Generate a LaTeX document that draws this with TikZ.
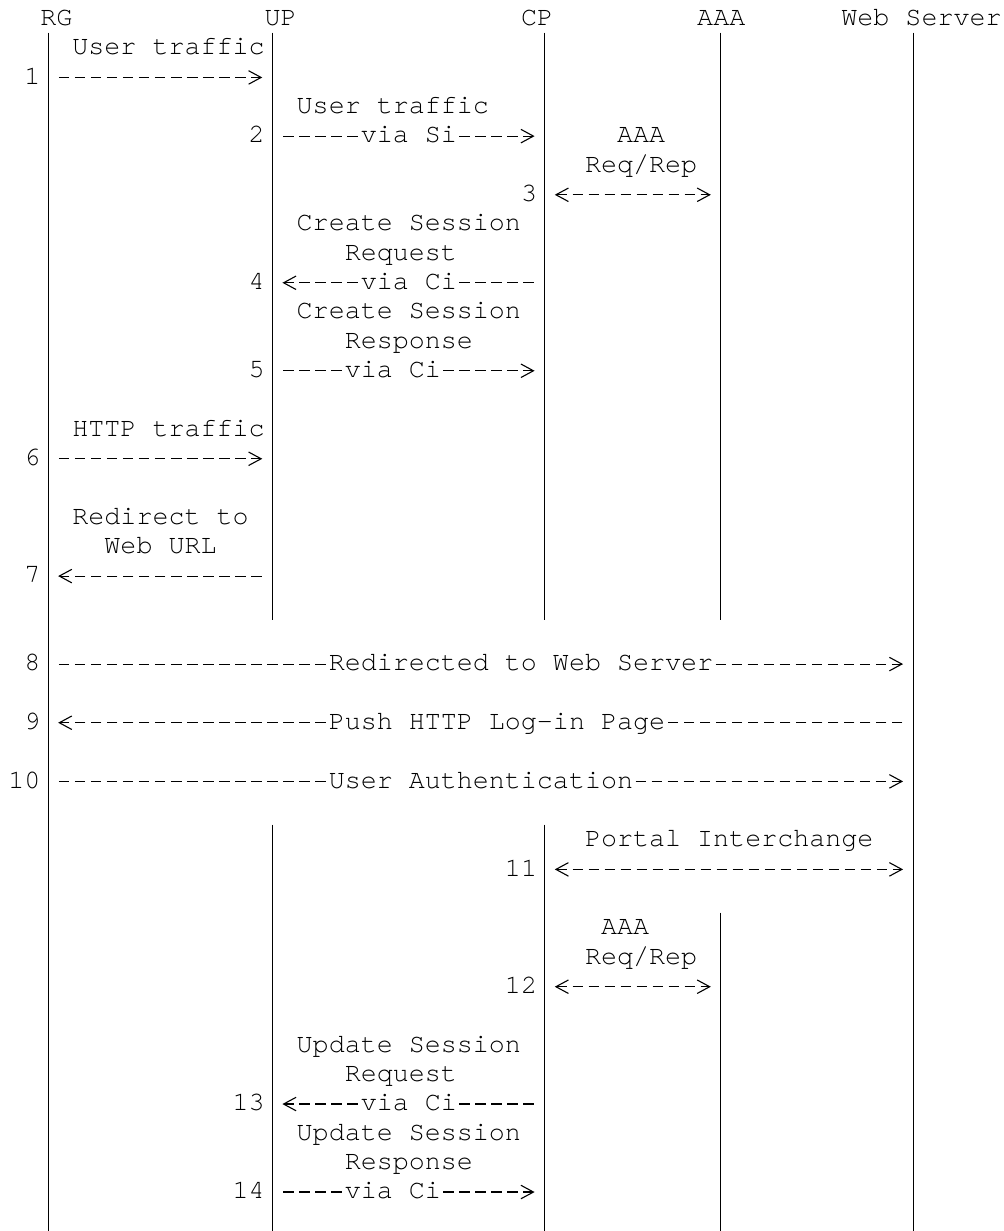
\documentclass[tikz,border=0pt]{standalone}
\usepackage{fontspec}
\newfontfamily\courfont[Ligatures=NoCommon]{TeX Gyre Cursor}
\usetikzlibrary{arrows.meta}

\tikzset{
  txt/.style={anchor=base west, inner sep=0pt, font=\courfont\fontsize{15.19pt}{16.7pt}\selectfont},
  lbl/.style={txt, fill=white, inner ysep=1pt},
  life/.style={line width=0.022cm},
  msg/.style={line width=0.022cm, dash pattern=on 2.115mm off 1.089mm, shorten <=2.147mm, shorten >=2.018mm, ->},
  twoway/.style={msg, <->, shorten <=2.018mm},
  >={Straight Barb[length=2.5mm,width=2.7mm]}
}

\begin{document}
\begin{tikzpicture}[x=3.204mm, y=5.866mm]
    \useasboundingbox (0,0) rectangle (62.61,-41.97);
    % ---- headers ----
    \node[txt] (rg)  at (2.5,-0.869)  {RG};
    \node[txt] (up)  at (16.5,-0.869) {UP};
    \node[txt] (cp)  at (32.5,-0.869) {CP};
    \node[txt] (aaa) at (43.5,-0.869) {AAA};
    \node[txt] (ws)  at (52.5,-0.869) {Web Server};
    % ---- points on the lifelines, one per row ----
    \foreach \n/\c in {rg/3,up/17,cp/34,aaa/45,ws/57} {
        \foreach \r in {1,...,41} {
            \coordinate (\n-\r) at (\c,{-\r-0.641});
        }
    }
    % ---- lifelines ----
    \draw[life] ([yshift=3.08mm]rg-1)   -- ([yshift=-2.92mm]rg-41);
    \draw[life] ([yshift=3.08mm]up-1)   -- ([yshift=-2.92mm]up-20);
    \draw[life] ([yshift=3.08mm]up-28)  -- ([yshift=-2.92mm]up-41);
    \draw[life] ([yshift=3.08mm]cp-1)   -- ([yshift=-2.92mm]cp-20);
    \draw[life] ([yshift=3.08mm]cp-28)  -- ([yshift=-2.92mm]cp-41);
    \draw[life] ([yshift=3.08mm]aaa-1)  -- ([yshift=-2.92mm]aaa-20);
    \draw[life] ([yshift=3.08mm]aaa-31) -- ([yshift=-2.92mm]aaa-41);
    \draw[life] ([yshift=3.08mm]ws-1)   -- ([yshift=-2.92mm]ws-41);
    % ---- steps 1-7 ----
    \node[txt] at (4.5,-1.869) {User traffic};
    \node[txt] (n1) at (1.5,-2.869) {1};
    \draw[msg] (rg-2) -- (up-2);
    \node[txt] at (18.5,-3.869) {User traffic};
    \node[txt] (n2) at (15.5,-4.869) {2};
    \draw[msg] (up-4) -- (cp-4);
    \node[lbl] at (22.5,-4.869) {via Si};
    \node[txt] at (38.5,-4.869) {AAA};
    \node[txt] at (36.5,-5.869) {Req/Rep};
    \node[txt] (n3) at (32.5,-6.869) {3};
    \draw[twoway] (cp-6) -- (aaa-6);
    \node[txt] at (18.5,-7.869) {Create Session};
    \node[txt] at (21.5,-8.869) {Request};
    \node[txt] (n4) at (15.5,-9.869) {4};
    \draw[msg] (cp-9) -- (up-9);
    \node[lbl] at (22.5,-9.869) {via Ci};
    \node[txt] at (18.5,-10.869) {Create Session};
    \node[txt] at (21.5,-11.869) {Response};
    \node[txt] (n5) at (15.5,-12.869) {5};
    \draw[msg] (up-12) -- (cp-12);
    \node[lbl] at (21.5,-12.869) {via Ci};
    \node[txt] at (4.5,-14.869) {HTTP traffic};
    \node[txt] (n6) at (1.5,-15.869) {6};
    \draw[msg] (rg-15) -- (up-15);
    \node[txt] at (4.5,-17.869) {Redirect to};
    \node[txt] at (6.5,-18.869) {Web URL};
    \node[txt] (n7) at (1.5,-19.869) {7};
    \draw[msg] (up-19) -- (rg-19);
    % ---- steps 8-10 ----
    \node[txt] (n8) at (1.5,-22.869) {8};
    \draw[msg] (rg-22) -- (ws-22);
    \node[lbl] at (20.5,-22.869) {Redirected to Web Server};
    \node[txt] (n9) at (1.5,-24.869) {9};
    \draw[msg] (ws-24) -- (rg-24);
    \node[lbl] at (20.5,-24.869) {Push HTTP Log-in Page};
    \node[txt] (n10) at (0.5,-26.869) {10};
    \draw[msg] (rg-26) -- (ws-26);
    \node[lbl] at (20.5,-26.869) {User Authentication};
    % ---- steps 11-14 ----
    \node[txt] at (36.5,-28.869) {Portal Interchange};
    \node[txt] (n11) at (31.5,-29.869) {11};
    \draw[twoway] (cp-29) -- (ws-29);
    \node[txt] at (37.5,-31.869) {AAA};
    \node[txt] at (36.5,-32.869) {Req/Rep};
    \node[txt] (n12) at (31.5,-33.869) {12};
    \draw[twoway] (cp-33) -- (aaa-33);
    \node[txt] at (18.5,-35.869) {Update Session};
    \node[txt] at (21.5,-36.869) {Request};
    \node[txt] (n13) at (14.5,-37.869) {13};
    \draw[msg] (cp-37) -- (up-37);
    \node[lbl] at (22.5,-37.869) {via Ci};
    \node[txt] at (18.5,-38.869) {Update Session};
    \node[txt] at (21.5,-39.869) {Response};
    \node[txt] (n14) at (14.5,-40.869) {14};
    \draw[msg] (up-40) -- (cp-40);
    \node[lbl] at (21.5,-40.869) {via Ci};
\end{tikzpicture}
\end{document}
